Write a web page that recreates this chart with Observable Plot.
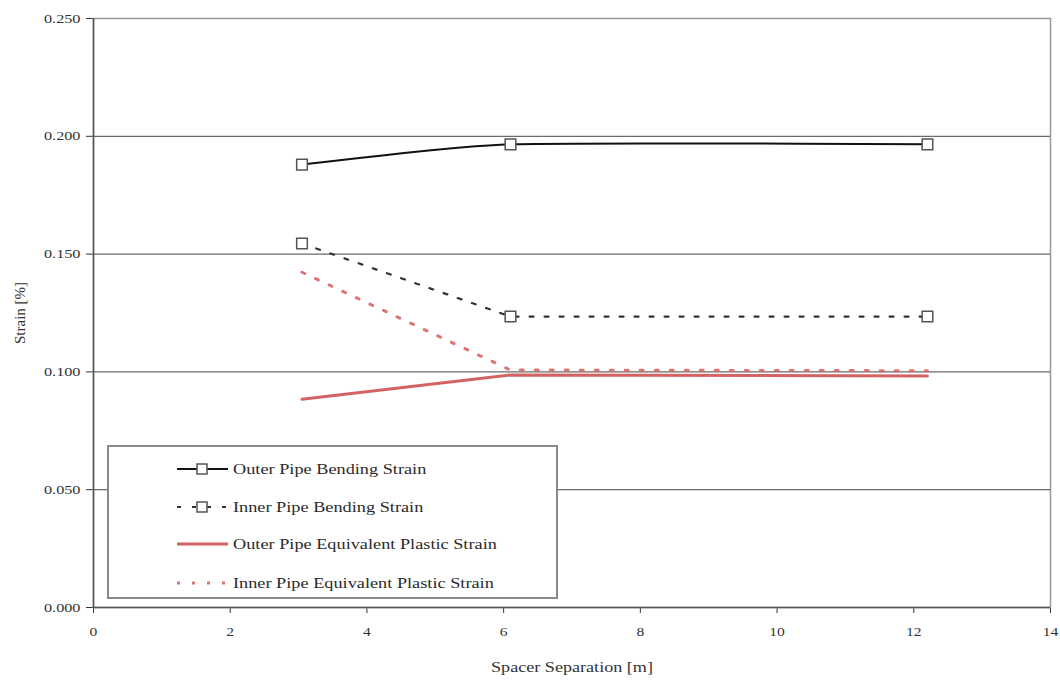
<!DOCTYPE html>
<html>
<head>
<meta charset="utf-8">
<script src="https://cdn.jsdelivr.net/npm/d3@7"></script>
<script src="https://cdn.jsdelivr.net/npm/@observablehq/plot@0.6"></script>
<style>
  body { margin: 0; background: #fff; }
  #wrap { position: relative; width: 1060px; height: 681px; font-family: "Liberation Serif", "DejaVu Serif", serif; }
  #legend { position: absolute; left: 107px; top: 445px; width: 447px; height: 150px; border: 2px solid #8a8a8a; background: #fff; }
  .row { position: absolute; left: 66px; display: flex; align-items: center; height: 20px; font-size: 14.5px; color: #2a2a2a; white-space: nowrap; }
  .row svg { margin-right: 3px; flex: none; }
  .row span { display: inline-block; transform: scaleX(1.26); transform-origin: left center; }
</style>
</head>
<body>
<div id="wrap"></div>
<script>
const spacing = [3.05, 6.1, 12.2];
const outerBending = [0.188, 0.1966, 0.1966];
const innerBending = [0.1545, 0.1235, 0.1235];
const outerPlastic = [0.0884, 0.0987, 0.0983];
const innerPlastic = [0.1423, 0.1008, 0.1005];
const seriesNames = [
  "Outer Pipe Bending Strain",
  "Inner Pipe Bending Strain",
  "Outer Pipe Equivalent Plastic Strain",
  "Inner Pipe Equivalent Plastic Strain"
];
const xTicks = [0, 2, 4, 6, 8, 10, 12, 14];
const yTicks = [0, 0.05, 0.1, 0.15, 0.2, 0.25];
const gridTicks = [0.05, 0.1, 0.15, 0.2];

const mk = (vals) => spacing.map((x, i) => ({x, y: vals[i]}));
const ob = mk(outerBending), ib = mk(innerBending), op = mk(outerPlastic), ip = mk(innerPlastic);

const styles = [
  {stroke: "#111", strokeWidth: 2, dash: null, marker: true},
  {stroke: "#333", strokeWidth: 2.2, dash: "4,11", marker: true},
  {stroke: "#cc4646", strokeWidth: 3, dash: null, marker: false, opacity: 0.85},
  {stroke: "#dc6464", strokeWidth: 3, dash: "3,12", marker: false, opacity: 0.9}
];

const chart = Plot.plot({
  width: 1060,
  height: 681,
  marginLeft: 93,
  marginRight: 10,
  marginTop: 18,
  marginBottom: 74,
  style: {fontFamily: "'Liberation Serif', serif", fontSize: "13px", color: "#333", background: "#fff"},
  x: {domain: [0, 14], ticks: xTicks, tickSize: 6, tickPadding: 13, label: "Spacer Separation [m]", labelAnchor: "center", labelArrow: "none", labelOffset: 64},
  y: {domain: [0, 0.25], ticks: yTicks, tickFormat: d3.format(".3f"), tickSize: 7, tickPadding: 6, label: "Strain [%]", labelAnchor: "center", labelArrow: "none", labelOffset: 79},
  marks: [
    Plot.frame({stroke: "#999", strokeWidth: 1.5}),
    Plot.gridY(gridTicks, {stroke: "#6a6a6a", strokeOpacity: 1, strokeWidth: 1.3}),
    Plot.ruleX([0], {stroke: "#555", strokeWidth: 1.5}),
    Plot.ruleY([0], {stroke: "#555", strokeWidth: 1.5}),
    Plot.lineY(op, {x: "x", y: "y", stroke: styles[2].stroke, strokeWidth: 3, strokeOpacity: 0.85}),
    Plot.lineY(ip, {x: "x", y: "y", stroke: styles[3].stroke, strokeWidth: 3, strokeDasharray: "3,12", strokeOpacity: 0.9}),
    Plot.lineY(ib, {x: "x", y: "y", stroke: styles[1].stroke, strokeWidth: 2.2, strokeDasharray: "4,11"}),
    Plot.lineY(ob, {x: "x", y: "y", stroke: styles[0].stroke, strokeWidth: 2, curve: d3.curveCardinal.tension(0.45)}),
    Plot.dot(ib, {x: "x", y: "y", symbol: "square", r: 6, stroke: "#555", strokeWidth: 1.5, fill: "#fff"}),
    Plot.dot(ob, {x: "x", y: "y", symbol: "square", r: 6, stroke: "#555", strokeWidth: 1.5, fill: "#fff"})
  ]
});

const wrap = document.getElementById("wrap");
wrap.appendChild(chart);

// stretch tick and axis label text horizontally (wide serif look of the reference)
function stretch(sel, sx, size) {
  chart.querySelectorAll(sel).forEach(t => {
    if (size) t.setAttribute("font-size", size);
    if (sx) {
      const tr = t.getAttribute("transform") || "";
      t.setAttribute("transform", (tr + " scale(" + sx + ",1)").trim());
    }
  });
}
stretch("g[aria-label='y-axis tick label'] text", 1.25);
stretch("g[aria-label='x-axis tick label'] text", 1.2);
stretch("g[aria-label='x-axis label'] text", 1.25, 14.5);
stretch("g[aria-label='y-axis label'] text", null, 15);

// legend
const legend = document.createElement("div");
legend.id = "legend";
const rowTops = [12, 50, 87, 126];
seriesNames.forEach((name, i) => {
  const s = styles[i];
  const row = document.createElement("div");
  row.className = "row";
  row.style.top = rowTops[i] + "px";
  const ns = "http://www.w3.org/2000/svg";
  const svg = document.createElementNS(ns, "svg");
  svg.setAttribute("width", 55);
  svg.setAttribute("height", 20);
  const line = document.createElementNS(ns, "line");
  line.setAttribute("x1", 2); line.setAttribute("x2", 53);
  line.setAttribute("y1", 10); line.setAttribute("y2", 10);
  line.setAttribute("stroke", s.stroke);
  line.setAttribute("stroke-width", s.strokeWidth);
  if (s.opacity) line.setAttribute("stroke-opacity", s.opacity);
  if (s.dash) line.setAttribute("stroke-dasharray", s.dash);
  svg.appendChild(line);
  if (s.marker) {
    const r = document.createElementNS(ns, "rect");
    r.setAttribute("x", 22); r.setAttribute("y", 5);
    r.setAttribute("width", 10); r.setAttribute("height", 10);
    r.setAttribute("fill", "#fff"); r.setAttribute("stroke", "#555"); r.setAttribute("stroke-width", 1.5);
    svg.appendChild(r);
  }
  row.appendChild(svg);
  const t = document.createElement("span");
  t.textContent = name;
  row.appendChild(t);
  legend.appendChild(row);
});
wrap.appendChild(legend);
</script>
</body>
</html>
